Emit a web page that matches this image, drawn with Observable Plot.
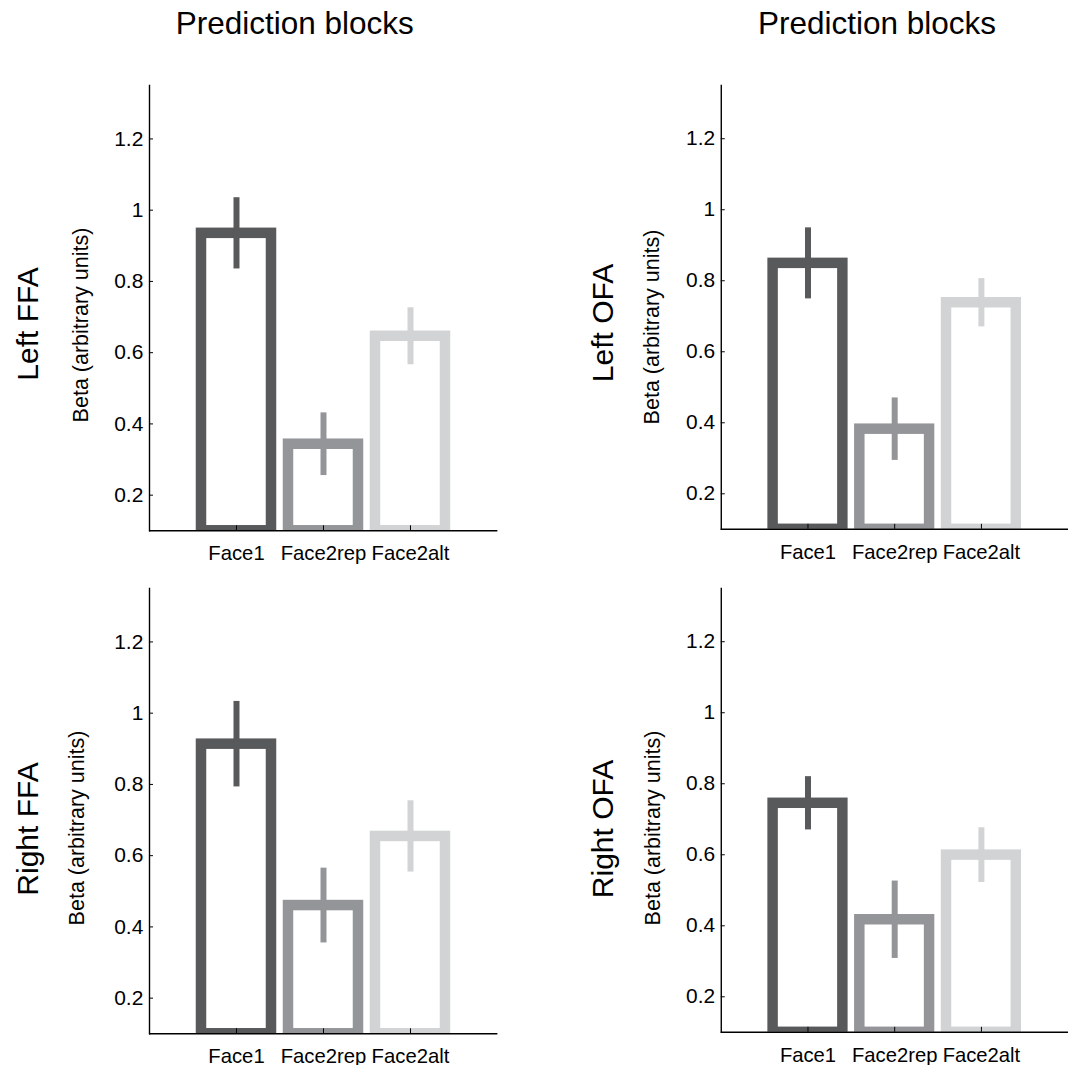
<!DOCTYPE html>
<html><head><meta charset="utf-8">
<script src="https://cdn.jsdelivr.net/npm/d3@7"></script>
<script src="https://cdn.jsdelivr.net/npm/@observablehq/plot@0.6"></script>
<style>
html,body{margin:0;padding:0;background:#fff;overflow:hidden;}
#fig{position:relative;width:1076px;height:1065px;font-family:"Liberation Sans",Arial,sans-serif;color:#000;}
.abs{position:absolute;white-space:nowrap;line-height:1;}
.panel{position:absolute;}
</style></head><body><div id="fig"></div>
<script>
// ---- data ----
const categories = ["Face1", "Face2rep", "Face2alt"];
const regions = ["Left FFA", "Left OFA", "Right FFA", "Right OFA"];
const columnTitles = ["Prediction blocks", "Prediction blocks"];
const yLabel = "Beta (arbitrary units)";

const leftFFAMean = [0.935, 0.343, 0.646];
const leftFFAErr  = [0.100, 0.088, 0.080];
const leftOFAMean = [0.849, 0.382, 0.738];
const leftOFAErr  = [0.100, 0.088, 0.068];
const rightFFAMean = [0.913, 0.460, 0.654];
const rightFFAErr  = [0.120, 0.105, 0.100];
const rightOFAMean = [0.745, 0.417, 0.599];
const rightOFAErr  = [0.075, 0.109, 0.077];

const yTicks = [0.2, 0.4, 0.6, 0.8, 1, 1.2];
const yDomain = [0.1, 1.35];
const barColors = ["#58595b", "#939598", "#d1d3d4"];

// ---- layout ----
const FONT = '"Liberation Sans", Arial, sans-serif';
const PW = 348.4, PH = 445.3;
const ML = 70, MR = 8, MT = 8, MB = 45;
const panels = [
  {mean: leftFFAMean,  err: leftFFAErr,  ax: 149.3, ay: 84.7},
  {mean: leftOFAMean,  err: leftOFAErr,  ax: 721.0, ay: 84.7},
  {mean: rightFFAMean, err: rightFFAErr, ax: 149.3, ay: 588.3},
  {mean: rightOFAMean, err: rightOFAErr, ax: 721.0, ay: 588.3}
];
const fig = document.getElementById("fig");

function makePanel(means, errs) {
  const data = categories.map((c, i) => ({
    cat: c, mean: means[i], lo: means[i] - errs[i], hi: means[i] + errs[i], color: barColors[i]
  }));
  return Plot.plot({
    width: ML + PW + MR, height: MT + PH + MB,
    marginLeft: ML, marginRight: MR, marginTop: MT, marginBottom: MB,
    style: {fontFamily: FONT, fontSize: "21px", color: "#000", background: "transparent", overflow: "visible"},
    x: {type: "band", domain: categories, paddingInner: 0.2, paddingOuter: 0.6, axis: null, label: null},
    y: {domain: yDomain, axis: null, label: null},
    color: {type: "identity"},
    marks: [
      Plot.barY(data, {x: "cat", y1: yDomain[0], y2: "mean", fill: "white", stroke: "color", strokeWidth: 10.5, inset: 0, clip: true}),
      Plot.ruleX(data, {x: "cat", y1: "lo", y2: "hi", stroke: "color", strokeWidth: 6}),
      Plot.ruleY([yDomain[0]], {stroke: "#000", strokeWidth: 1.4}),
      Plot.frame({anchor: "left", stroke: "#000", strokeWidth: 1.4}),
      Plot.axisX({tickSize: -5, tickPadding: 20, label: null, fontSize: 20.3}),
      Plot.axisY({ticks: yTicks, tickSize: -4, tickPadding: 10.2, tickFormat: d => String(d), label: null})
    ]
  });
}

panels.forEach(p => {
  const div = document.createElement("div");
  div.className = "panel";
  div.style.left = (p.ax - ML) + "px";
  div.style.top = (p.ay - MT) + "px";
  div.appendChild(makePanel(p.mean, p.err));
  fig.appendChild(div);
});

function addText(txt, size, cx, cy, rotate) {
  const d = document.createElement("div");
  d.className = "abs";
  d.textContent = txt;
  d.style.fontSize = size + "px";
  d.style.left = cx + "px";
  d.style.top = cy + "px";
  d.style.transform = "translate(-50%,-50%)" + (rotate ? " rotate(-90deg)" : "");
  fig.appendChild(d);
}
// column titles
const titleSize = 31.5;
[294.7, 877].forEach((cx, i) => addText(columnTitles[i], titleSize, cx, 35 - 0.8465 * titleSize + titleSize / 2, false));
// row region labels
addText(regions[0], 30, 27.8, 324.2, true);
addText(regions[1], 30, 602.5, 323.3, true);
addText(regions[2], 30, 27.8, 829, true);
addText(regions[3], 30, 602.5, 829, true);
// y labels
const yLabSize = 21.5;
addText(yLabel, yLabSize, 82, 325, true);
addText(yLabel, yLabSize, 652.5, 326.5, true);
addText(yLabel, yLabSize, 77.5, 828, true);
addText(yLabel, yLabSize, 653.5, 828, true);
</script></body></html>
